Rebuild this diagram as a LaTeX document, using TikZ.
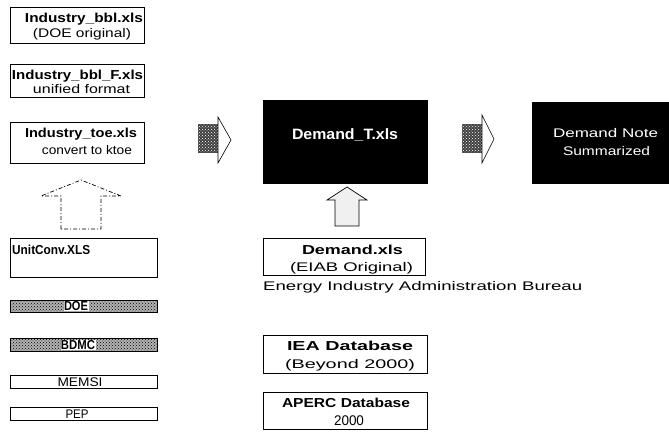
\documentclass[tikz,border=0pt]{standalone}
\usepackage{fontspec}
\setmainfont{Liberation Sans}
\usetikzlibrary{patterns}
\newcommand{\fw}[2]{\resizebox{#1pt}{\height}{#2}}
\begin{document}
\begin{tikzpicture}[x=1pt,y=-1pt,
  box/.style={draw, line width=0.8pt, inner sep=0pt, outer sep=0pt},
  darkbox/.style={box, fill=black},
  txt/.style={inner sep=0pt, anchor=base, font=\fontsize{12.5}{13}\selectfont},
  btxt/.style={txt, font=\fontsize{13}{14}\selectfont\bfseries},
  stxt/.style={txt, font=\fontsize{12.5}{13}\selectfont},
  sbtxt/.style={txt, font=\fontsize{13}{14}\selectfont\bfseries},
  texture/.style={fill=black!30, postaction={pattern=crosshatch dots, pattern color=black}},
  icon/.style={fill=black!75, postaction={pattern=crosshatch dots, pattern color=white}},
  arrowhead/.style={draw, line width=0.6pt, fill=white}
]
\useasboundingbox (0,0) rectangle (669,431);
% left column boxes
\node[box, minimum width=134pt, minimum height=36pt] (b1) at (77,25) {};
\node[btxt] (b1a) at (84,22.5) {\fw{118}{Industry\_bbl.xls}};
\node[txt] (b1b) at (82,37.5) {\fw{98}{(DOE original)}};
\node[box, minimum width=134pt, minimum height=33pt] (b2) at (77,80.5) {};
\node[btxt] (b2a) at (77.5,79) {\fw{131}{Industry\_bbl\_F.xls}};
\node[txt] (b2b) at (81.5,93.5) {\fw{97}{unified format}};
\node[box, minimum width=134pt, minimum height=41pt] (b3) at (77,142.5) {};
\node[btxt] (b3a) at (81,137) {\fw{112}{Industry\_toe.xls}};
\node[txt] (b3b) at (87,154) {\fw{90}{convert to ktoe}};
% dashed block arrow
\draw[dash pattern=on 4pt off 2pt on 1pt off 2pt, line width=0.7pt] (61,229) -- (61,196) -- (41,196) -- (81,180) -- (121,196) -- (101,196) -- (101,229) -- cycle;
\node[box, minimum width=147pt, minimum height=39pt] (uc) at (83.5,257.5) {};
\node[btxt, anchor=base west] (uct) at (12,254) {\fw{78}{UnitConv.XLS}};
\node[box, texture, minimum width=147pt, minimum height=12pt] (doe) at (83.5,306) {};
\node[sbtxt, fill=white, inner sep=0.5pt] (doet) at (76,310.5) {\fw{24}{DOE}};
\node[box, texture, minimum width=147pt, minimum height=13pt] (bdmc) at (83.5,344.5) {};
\node[sbtxt, fill=white, inner sep=0.5pt] (bdmct) at (78,349.5) {\fw{34}{BDMC}};
\node[box, minimum width=147pt, minimum height=13pt] (memsi) at (83.5,381.5) {};
\node[stxt] (memsit) at (80,386.5) {\fw{45}{MEMSI}};
\node[box, minimum width=147pt, minimum height=13pt] (pep) at (83.5,413.5) {};
\node[stxt] (pept) at (77,418.5) {\fw{23}{PEP}};
% left icon arrow
\fill[icon] (198,124) rectangle (218,153);
\draw[arrowhead] (218,117) -- (231,140) -- (218,163) -- cycle;
% middle
\node[darkbox, minimum width=164pt, minimum height=83pt] (dt) at (345,141.5) {};
\node[btxt, text=white, font=\fontsize{15}{16}\selectfont\bfseries] (dtt) at (345,139) {\fw{106}{Demand\_T.xls}};
\draw[line width=0.7pt, fill=black!6] (335,226) -- (335,200) -- (327,200) -- (347,187) -- (367,200) -- (359,200) -- (359,226) -- cycle;
\node[box, minimum width=162pt, minimum height=37pt] (dx) at (344,256.5) {};
\node[btxt] (dxa) at (352.5,254.5) {\fw{101}{Demand.xls}};
\node[txt] (dxb) at (351.5,271.5) {\fw{123}{(EIAB Original)}};
\node[txt, anchor=base west] (eiab) at (263,290) {\fw{319}{Energy Industry Administration Bureau}};
\node[box, minimum width=164pt, minimum height=38pt] (iea) at (345,354) {};
\node[btxt] (ieaa) at (350,350) {\fw{126}{IEA Database}};
\node[txt] (ieab) at (350,368) {\fw{130}{(Beyond 2000)}};
\node[box, minimum width=164pt, minimum height=37.5pt] (ap) at (345,411) {};
\node[btxt] (apa) at (346,407) {\fw{128}{APERC Database}};
\node[txt, font=\fontsize{14}{15}\selectfont] (apb) at (349,425.5) {\fw{30}{2000}};
% right icon arrow
\fill[icon] (462,124) rectangle (482,153);
\draw[arrowhead] (482,115) -- (494,139) -- (482,163) -- cycle;
% right box
\node[darkbox, minimum width=137pt, minimum height=81pt] (dn) at (600.5,142.5) {};
\node[txt, text=white] (dna) at (605.5,137.5) {\fw{105}{Demand Note}};
\node[txt, text=white] (dnb) at (606.5,155) {\fw{87}{Summarized}};
\end{tikzpicture}
\end{document}
